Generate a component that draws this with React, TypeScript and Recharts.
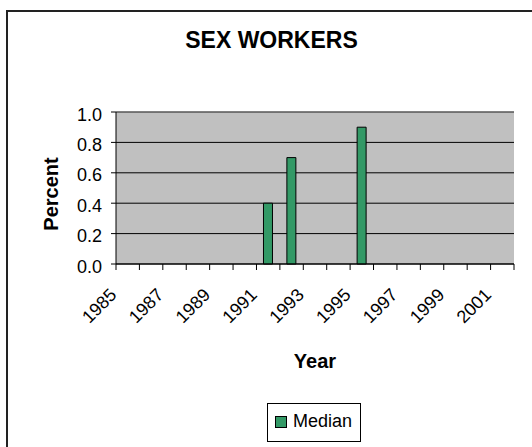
import React from 'react'
import {
  BarChart,
  Bar,
  XAxis,
  YAxis,
  CartesianGrid,
  ReferenceLine,
  Label
} from 'recharts'

const years = [1985, 1986, 1987, 1988, 1989, 1990, 1991, 1992, 1993, 1994, 1995, 1996, 1997, 1998, 1999, 2000, 2001]
const median = [null, null, null, null, null, null, 0.4, 0.7, null, null, 0.9, null, null, null, null, null, null]
const labelYears = [1985, 1987, 1989, 1991, 1993, 1995, 1997, 1999, 2001]
const yTicks = [0, 0.2, 0.4, 0.6, 0.8, 1.0]

const data = years.map((year, i) => ({ year, median: median[i] }))

const FONT = '"Liberation Sans", Arial, sans-serif'
const GREEN = '#339966'
const CHART_W = 532
const CHART_H = 447
const MARGIN = { top: 112, right: 18, bottom: 78, left: 56 }
const YAXIS_W = 60
const XAXIS_H = 105
const PLOT_W = CHART_W - MARGIN.left - MARGIN.right - YAXIS_W
const BAND = PLOT_W / years.length
const PLOT_BOTTOM = CHART_H - MARGIN.bottom - XAXIS_H

const XTick = (props: any) => {
  const { x, payload, index } = props
  const left = x - BAND / 2
  const lx = x - 10
  const ly = PLOT_BOTTOM + 32
  return (
    <g>
      <line x1={left} x2={left} y1={PLOT_BOTTOM} y2={PLOT_BOTTOM + 6} stroke="#000" />
      {index === years.length - 1 && (
        <line x1={x + BAND / 2} x2={x + BAND / 2} y1={PLOT_BOTTOM} y2={PLOT_BOTTOM + 6} stroke="#000" />
      )}
      {labelYears.includes(payload.value) && (
        <text
          x={lx}
          y={ly}
          textAnchor="end"
          transform={`rotate(-45 ${lx} ${ly})`}
          fontSize={18}
          fontFamily={FONT}
          fill="#000"
        >
          {payload.value}
        </text>
      )}
    </g>
  )
}

const YTick = (props: any) => {
  const { x, y, payload } = props
  return (
    <text x={x} y={y + 8.5} textAnchor="end" fontSize={18} fontFamily={FONT} fill="#000">
      {Number(payload.value).toFixed(1)}
    </text>
  )
}

const PercentLabel = (props: any) => {
  const { viewBox } = props
  const cx = 51
  const cy = viewBox.y + viewBox.height / 2 + 6
  return (
    <text
      x={cx}
      y={cy}
      dy="0.36em"
      textAnchor="middle"
      transform={`rotate(-90 ${cx} ${cy})`}
      fontSize={20}
      fontWeight="bold"
      fontFamily={FONT}
      fill="#000"
    >
      Percent
    </text>
  )
}

export default function App() {
  return (
    <div
      style={{
        position: 'fixed',
        left: 0,
        top: 0,
        width: CHART_W,
        height: CHART_H,
        overflow: 'hidden',
        background: '#fff',
        fontFamily: FONT
      }}
    >
      <div
        style={{
          position: 'absolute',
          left: 6,
          top: 10,
          width: 600,
          height: 500,
          borderLeft: '2px solid #222',
          borderTop: '2px solid #222'
        }}
      />
      <div style={{ position: 'absolute', left: 0, top: 0 }}>
        <BarChart width={CHART_W} height={CHART_H} data={data} margin={MARGIN} barSize={9}>
          <CartesianGrid vertical={false} stroke="#000" fill="#C0C0C0" fillOpacity={1} />
          <XAxis
            dataKey="year"
            interval={0}
            height={XAXIS_H}
            tickLine={false}
            axisLine={{ stroke: '#000' }}
            tick={<XTick />}
          >
            <Label value="Year" position="insideBottom" offset={1} fontSize={20} fontWeight="bold" fill="#000" fontFamily={FONT} />
          </XAxis>
          <YAxis
            width={YAXIS_W}
            domain={[0, 1]}
            ticks={yTicks}
            interval={0}
            tickSize={5}
            tickMargin={9}
            tickLine={{ stroke: '#000' }}
            axisLine={{ stroke: '#000' }}
            tick={<YTick />}
          >
            <Label content={<PercentLabel />} />
          </YAxis>
          <YAxis
            yAxisId="r"
            orientation="right"
            width={0}
            domain={[0, 1]}
            tick={false}
            tickLine={false}
            axisLine={{ stroke: '#808080' }}
          />
          <ReferenceLine y={1} stroke="#808080" />
          <Bar dataKey="median" fill={GREEN} stroke="#000" strokeWidth={1} isAnimationActive={false} />
        </BarChart>
      </div>
      <svg width={CHART_W} height={CHART_H} style={{ position: 'absolute', left: 0, top: 0, pointerEvents: 'none' }}>
        <text x={271.5} y={47.5} textAnchor="middle" fontSize={23} fontWeight="bold" fontFamily={FONT} fill="#000">
          SEX WORKERS
        </text>
        <rect x={267.5} y={403.5} width={93} height={38} fill="#fff" stroke="#000" />
        <rect x={275.5} y={416.5} width={11} height={11} fill={GREEN} stroke="#000" />
        <text x={293} y={427} fontSize={18} fontFamily={FONT} fill="#000">
          Median
        </text>
      </svg>
    </div>
  )
}
